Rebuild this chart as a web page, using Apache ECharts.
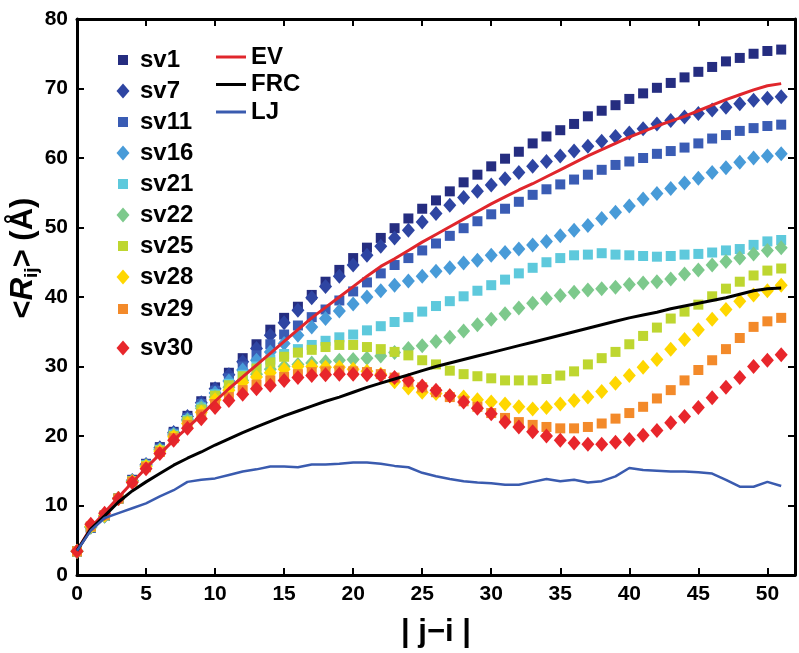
<!DOCTYPE html>
<html><head><meta charset="utf-8">
<script src="https://cdn.jsdelivr.net/npm/echarts@6/dist/echarts.min.js"></script>
<style>html,body{margin:0;padding:0;background:#fff}#c{width:799px;height:653px}</style>
</head><body><div id="c"></div>
<script>
const sep = [0,1,2,3,4,5,6,7,8,9,10,11,12,13,14,15,16,17,18,19,20,21,22,23,24,25,26,27,28,29,30,31,32,33,34,35,36,37,38,39,40,41,42,43,44,45,46,47,48,49,50,51];
const sv1 = [3.4,6.8,8.5,11,13.7,16,18.4,20.6,22.9,25, 27,29.1,31.2,33.2,35.3,37,38.6,40.3,42.2,43.9, 45.6,47.1,48.5,49.9,51.3,52.7,53.9,55.2,56.5,57.6, 58.8,59.9,60.9,62.1,63.1,64,64.9,66,66.8,67.6, 68.5,69.3,70.1,70.8,71.6,72.4,73.1,73.9,74.4,75, 75.4,75.6];
const sv7 = [3.4,6.9,8.5,11,13.6,15.9,18.3,20.5,22.8,24.8, 26.8,28.8,30.7,32.6,34.5,36.3,38.1,39.9,41.5,43, 44.6,46,47.3,48.5,49.6,50.8,52,53.2,54.3,55.2, 56.1,57,57.9,58.8,59.5,60.3,61,61.7,62.4,63.1, 63.6,64.2,64.9,65.4,65.9,66.4,66.9,67.3,67.8,68.3, 68.6,68.8];
const sv11 = [3.4,6.8,8.5,11,13.6,15.9,18.2,20.4,22.6,24.6, 26.5,28.3,30,31.6,33.2,34.6,35.9,37.1,38.2,39.5, 40.8,42.1,43.4,44.6,45.6,46.7,47.7,48.8,49.9,50.9, 51.9,52.7,53.7,54.7,55.5,56.2,56.9,57.6,58.3,59, 59.5,60,60.6,61,61.5,62.1,62.8,63.3,63.9,64.3, 64.6,64.8];
const sv16 = [3.4,6.9,8.5,11,13.5,15.8,18.1,20.3,22.4,24.3, 26.2,27.9,29.5,30.9,32.1,33.3,34.5,35.7,36.9,38, 39,40,40.9,41.7,42.3,43,43.7,44.2,44.9,45.3, 46,46.4,46.9,47.5,48,48.8,49.6,50.3,51.3,52.2, 53.1,54.1,54.9,55.6,56.4,57.1,57.9,58.6,59.4,60, 60.3,60.6];
const sv21 = [3.4,6.9,8.5,11,13.5,15.8,18,20.2,22.3,24.1, 26,27.5,28.8,30,31,31.8,32.5,33.1,33.7,34.2, 34.6,35.2,35.8,36.4,37.1,37.9,38.7,39.4,40.1,40.9, 41.7,42.5,43.4,44.2,45,45.6,46,46.1,46.3,46.1, 46,45.9,45.8,45.9,46.1,46.2,46.4,46.7,46.9,47.5, 48,48.2];
const sv22 = [3.4,6.9,8.5,11,13.5,15.7,18,20.1,22.2,24, 25.6,27,28,28.9,29.6,30,30.3,30.5,30.7,30.9, 31,31.2,31.5,32,32.6,33,33.6,34.2,35.1,36, 36.8,37.6,38.4,39.1,39.8,40.2,40.7,41,41.2,41.4, 41.8,42,42.2,42.6,43.3,43.9,44.6,45.1,45.6,46.2, 46.7,47.1];
const sv25 = [3.4,6.9,8.6,11,13.5,15.7,17.9,20,22.1,23.8, 25.8,27.3,28.6,29.7,30.6,31.4,32,32.4,32.8,33.1, 33.1,32.8,32.5,32.1,31.6,30.9,30.3,29.4,28.9,28.6, 28.3,28,28,28,28.2,28.7,29.3,30.3,31.2,32.1, 33.2,34.4,35.6,36.9,37.9,38.9,40.1,41.2,42.2,43.1, 43.8,44.1];
const sv28 = [3.4,7,8.6,11,13.4,15.6,17.8,19.9,21.8,23.4, 25.2,26.6,27.7,28.5,29.1,29.6,30,30,29.9,29.9, 29.6,29.3,28.9,27.8,26.9,26.3,26.1,25.8,25.6,25.2, 24.9,24.6,24.2,23.9,24.1,24.6,25.1,25.6,26.4,27.6, 28.7,29.9,31,32.5,33.9,35.3,36.8,38.2,39.4,40.3, 40.9,41.7];
const sv29 = [3.4,7,8.6,11,13.4,15.5,17.7,19.7,21.6,23.1, 24.6,25.6,26.6,27.4,28,28.5,28.9,29.2,29.3,29.4, 29.3,29.2,28.9,28.4,27.8,27,26.3,25.6,25,24.2, 23.3,22.6,22,21.6,21.3,21.1,21.1,21.3,21.8,22.5, 23.3,24.2,25.4,26.6,28,29.5,30.9,32.5,34.1,35.7, 36.5,37];
const sv30 = [3.4,7.3,8.9,11,13.3,15.3,17.5,19.4,21.1,22.5, 24.1,25.1,26,26.8,27.3,28,28.4,28.7,28.8,28.9, 28.9,28.8,28.7,28.4,28,27.2,26.6,25.8,24.9,24, 23.2,22,21.3,20.6,20,19.4,19,18.8,18.8,19.1, 19.5,20.1,20.8,21.9,22.8,24.1,25.5,27,28.4,30, 30.9,31.7];
const EV = [3.5,6.8,9,11.2,13.3,15.4,17.4,19.4,21.2,23, 25,26.8,28.5,30.2,31.9,33.6,35.3,37,38.5,40, 41.5,43,44.4,45.5,46.7,47.9,49,50.1,51.2,52.3, 53.4,54.4,55.4,56.3,57.3,58.3,59.3,60.3,61.2,62.1, 63,63.8,64.6,65.3,66,66.8,67.6,68.4,69.1,69.8, 70.4,70.7];
const FRC = [3.5,6.6,8.5,10.5,12.1,13.4,14.6,15.8,16.8,17.7, 18.7,19.6,20.5,21.3,22.1,22.9,23.6,24.3,25,25.6, 26.3,27,27.6,28.2,28.8,29.4,30,30.5,31,31.5, 32,32.5,33,33.5,34,34.5,35,35.5,36,36.5, 37,37.4,37.8,38.3,38.7,39.1,39.5,39.9,40.4,40.9, 41.2,41.3];
const LJ = [3.5,6.4,8.2,8.9,9.6,10.3,11.3,12.2,13.4,13.7, 13.9,14.4,14.9,15.2,15.6,15.6,15.5,15.9,15.9,16, 16.2,16.2,16,15.7,15.5,14.7,14.2,13.8,13.5,13.3, 13.2,13,13,13.4,13.8,13.5,13.7,13.3,13.5,14.2, 15.4,15.1,15,14.9,14.9,14.8,14.6,13.7,12.7,12.7, 13.4,12.8];
const xTickValues = [0,5,10,15,20,25,30,35,40,45,50];
const yTickValues = [0,10,20,30,40,50,60,70,80];

const pts = arr => sep.map((x, i) => [x, arr[i]]);
const FONT = 'Liberation Sans, Arial, sans-serif';

const markerSeries = [
  {name: 'sv1', data: sv1, shape: 'rect', color: '#252D80'},
  {name: 'sv7', data: sv7, shape: 'diamond', color: '#2E45A2'},
  {name: 'sv11', data: sv11, shape: 'rect', color: '#3A5CB4'},
  {name: 'sv16', data: sv16, shape: 'diamond', color: '#489BD8'},
  {name: 'sv21', data: sv21, shape: 'rect', color: '#5EC9DC'},
  {name: 'sv22', data: sv22, shape: 'diamond', color: '#7DC98C'},
  {name: 'sv25', data: sv25, shape: 'rect', color: '#BED630'},
  {name: 'sv28', data: sv28, shape: 'diamond', color: '#FFD700'},
  {name: 'sv29', data: sv29, shape: 'rect', color: '#F38A2A'},
  {name: 'sv30', data: sv30, shape: 'diamond', color: '#E8262B'}
];
const lineSeries = [
  {name: 'EV', data: EV, color: '#E0262C', width: 3},
  {name: 'FRC', data: FRC, color: '#000000', width: 3},
  {name: 'LJ', data: LJ, color: '#3A5BAF', width: 2.5}
];

const rowCenters = [60, 91, 122, 153, 184, 215, 246, 277, 309, 348];
const legends = markerSeries.map((s, i) => {
  const sq = s.shape === 'rect';
  const w = sq ? 10 : 13, h = sq ? 10 : 15;
  return {
    data: [s.name], orient: 'vertical', padding: 0,
    left: 123 - w / 2, top: rowCenters[i] - 14,
    itemWidth: w, itemHeight: h,
    textStyle: {fontFamily: FONT, fontWeight: 'bold', fontSize: 24, color: '#000', lineHeight: 28,
      padding: [0, 0, 0, 140 - (123 - w / 2 + w + 5)]}
  };
});
const lineIcon = 'path://M0,0 M30,14 M0,5.5 L30,5.5 L30,8.5 L0,8.5 Z';
legends.push({
  data: lineSeries.map(s => ({name: s.name, icon: lineIcon})),
  orient: 'vertical', padding: 0,
  left: 216, top: 45, itemWidth: 30, itemHeight: 14, itemGap: 3.5,
  textStyle: {fontFamily: FONT, fontWeight: 'bold', fontSize: 24, color: '#000', lineHeight: 24}
});

const axisCommon = {
  type: 'value', splitLine: {show: false},
  axisLine: {show: true, onZero: false, lineStyle: {color: '#000', width: 3}},
  axisTick: {show: true, inside: true, length: 7, lineStyle: {color: '#000', width: 2}}
};
const lbl = {fontFamily: FONT, fontWeight: 'bold', fontSize: 21, color: '#000'};

const option = {
  animation: false,
  backgroundColor: '#fff',
  grid: {left: 77, right: 4, top: 19, bottom: 74},
  legend: legends,
  xAxis: [
    Object.assign({}, axisCommon, {
      position: 'bottom', min: 0, max: 52, interval: 5,
      axisLabel: Object.assign({}, lbl, {margin: 9,
        formatter: v => xTickValues.indexOf(v) >= 0 ? String(v) : ''}),
      name: '| j\u2212i |', nameLocation: 'middle', nameGap: 42,
      nameTextStyle: {fontFamily: FONT, fontWeight: 'bold', fontSize: 31, color: '#000'}
    }),
    Object.assign({}, axisCommon, {
      position: 'top', min: 0, max: 52, interval: 5, axisLabel: {show: false}
    })
  ],
  yAxis: [
    Object.assign({}, axisCommon, {
      position: 'left', min: 0, max: 80, interval: 10,
      axisLabel: Object.assign({}, lbl, {margin: 9,
        formatter: v => yTickValues.indexOf(v) >= 0 ? String(v) : ''})
    }),
    Object.assign({}, axisCommon, {
      position: 'right', min: 0, max: 80, interval: 10, axisLabel: {show: false}
    })
  ],
  graphic: [{
    type: 'text', x: 23, y: 258, rotation: Math.PI / 2,
    style: {
      text: '{a|<}{b|R}{c|ij}{a|> (\u00C5)}',
      align: 'center', verticalAlign: 'middle', fill: '#000',
      rich: {
        a: {fontFamily: FONT, fontWeight: 'bold', fontSize: 31, lineHeight: 36, fill: '#000'},
        b: {fontFamily: FONT, fontWeight: 'bold', fontStyle: 'italic', fontSize: 31, lineHeight: 36, fill: '#000'},
        c: {fontFamily: FONT, fontWeight: 'bold', fontSize: 19, lineHeight: 19, verticalAlign: 'bottom', fill: '#000'}
      }
    }
  }],
  series: markerSeries.map(s => ({
    name: s.name, type: 'scatter', data: pts(s.data),
    symbol: s.shape, symbolSize: s.shape === 'rect' ? 10 : [13, 15],
    itemStyle: {color: s.color, opacity: 1},
    emphasis: {disabled: true}
  })).concat(lineSeries.map(s => ({
    name: s.name, type: 'line', data: pts(s.data), symbol: 'none', showSymbol: false,
    lineStyle: {color: s.color, width: s.width}, itemStyle: {color: s.color},
    z: 5, emphasis: {disabled: true}
  })))
};
const chart = echarts.init(document.getElementById('c'), null, {renderer: 'canvas'});
chart.setOption(option);
</script>
</body></html>
